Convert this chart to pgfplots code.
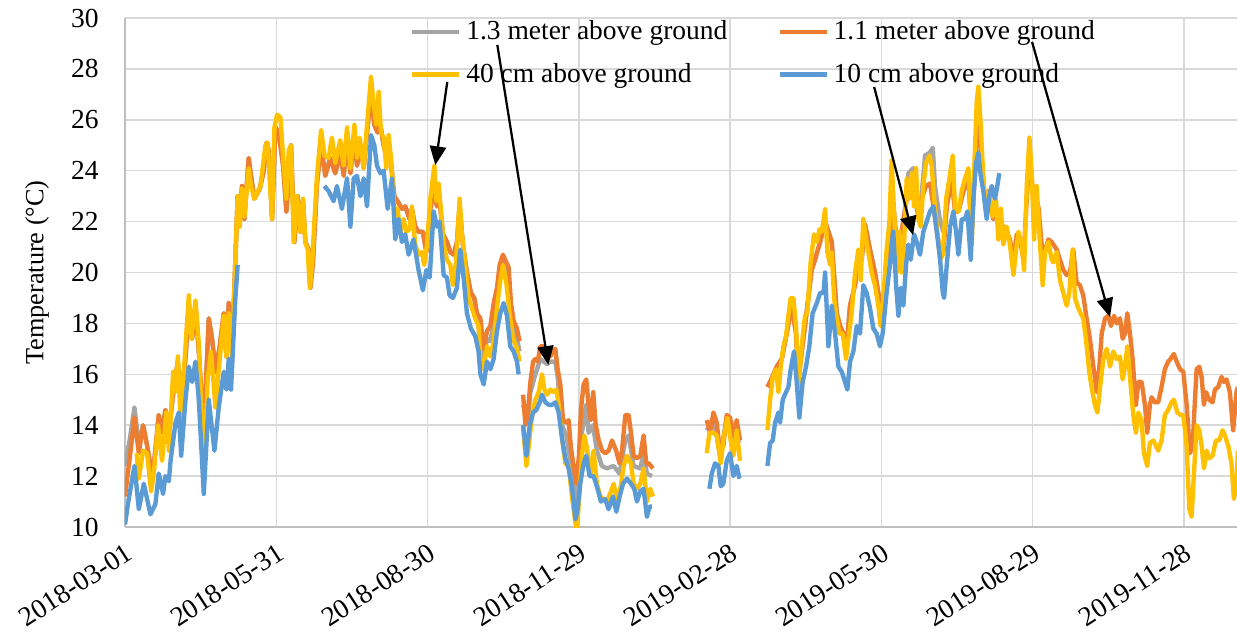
\documentclass[border=0pt]{standalone}
\usepackage{fontspec}
\setmainfont{Liberation Serif}
\usepackage{pgfplots}
\pgfplotsset{compat=1.18}
\usetikzlibrary{arrows.meta}
\definecolor{cgray}{HTML}{A5A5A5}
\definecolor{corange}{HTML}{ED7D31}
\definecolor{cyellow}{HTML}{FFC000}
\definecolor{cblue}{HTML}{5B9BD5}
\definecolor{gridc}{HTML}{D9D9D9}
\definecolor{axisc}{HTML}{BFBFBF}
\begin{document}
\begin{tikzpicture}
\begin{axis}[
  scale only axis, width=444.8pt, height=203.6pt,
  xmin=0, xmax=669, ymin=10, ymax=30,
  axis x line*=bottom, axis y line*=left,
  axis line style={axisc, line width=0.8pt, -},
  xtick={0,91,182,273,364,455,546,637},
  xticklabels={2018-03-01,2018-05-31,2018-08-30,2018-11-29,2019-02-28,2019-05-30,2019-08-29,2019-11-28},
  ytick={10,12,...,30},
  grid=major, major grid style={gridc, line width=0.6pt},
  major tick length=0pt, tick style={draw=none},
  /pgf/number format/assume math mode=true,
  ticklabel style={font=\fontsize{11}{13}\selectfont},
  xticklabel style={rotate=33, anchor=north east, xshift=0pt, yshift=-1.5pt, font=\fontsize{11}{13}\selectfont},
  yticklabel style={xshift=-7pt},
  ylabel={Temperature (°C)},
  ylabel style={at={(axis description cs:-0.079,0.5)}, anchor=center, font=\fontsize{10.5}{12}\selectfont},
  unbounded coords=jump,
  legend columns=2,
  legend style={draw=none, fill=none, at={(rel axis cs:0.5665,0.931)}, anchor=center,
    font=\fontsize{11}{13}\selectfont, /tikz/every even column/.append style={column sep=18pt}, row sep=4pt, inner sep=0pt},
  legend cell align=left,
  legend image code/.code={\draw[#1, line width=1.7pt] (0pt,0pt) -- (18.8pt,0pt);},
  every axis plot/.append style={line width=1.75pt, line join=round},
]
% 1.3 m (gray)
\addplot[cgray] coordinates {
(0,12.4) (3,13.5) (5.7,14.7) (8.3,13.2) (10.9,14.0) (13.3,13.2) (16.3,12.0) (17.3,12.4) (20.3,14.4) (22.3,13.7) (24.3,14.6) (26.4,13.7) (29.4,15.5) (31.8,16.5) (33.4,15.0) (36.4,16.6) (38.4,18.7) (40.4,17.4) (42.4,18.7) (44.4,16.9) (47.4,13.7) (50.4,18.2) (52.4,17.4) (54.4,16.1) (57,17.1) (59.4,18.4) (61,16.7) (62.4,18.8) (64.4,16.9) (66.4,20.5) (67.8,23.0) (69,22.0) (70.4,23.4) (71.8,22.1) (74.4,24.5) (75.8,23.8) (77.8,22.9) (81.1,23.3) (83.5,24.0) (85.1,25.1) (86.5,24.8) (88.5,22.1) (90.5,25.7) (92.5,25.5) (95.1,24.2) (97.1,22.4) (99.9,25.0) (101.9,21.2) (103.9,23.0) (105.5,21.6) (107.1,22.8) (108.5,21.2) (110.5,20.9) (111.5,19.4) (113,20.3) (115.5,23.5) (118,25.0) (120.5,23.8) (123.5,24.5) (126.5,23.9) (129.5,24.7) (131.6,23.8) (133.6,25.3) (135.6,23.9) (138,25.4) (139.6,24.2) (141.6,25.0) (143.6,24.1) (145.6,25.5) (148,27.0) (150,25.8) (152,25.5) (153.6,25.8) (155.6,25.0) (157.6,24.5) (159.6,24.6) (162,23.0) (164,22.8) (166.6,22.5) (168.6,22.6) (171.2,22.1) (172.6,22.5) (174.6,21.8) (176.6,21.6) (179.2,21.6) (181.3,20.8) (183.7,22.5) (185.7,23.2) (187.7,22.6) (189.3,22.8) (191.3,21.5) (193.7,21.2) (195.7,20.8) (197.7,20.7) (199.7,21.2) (201.3,22.6) (203.3,21.1) (205.7,20.0) (208.1,19.2) (210.1,19.0) (211.7,18.4) (213.8,17.3) (215.8,16.6) (217.8,17.4) (219.8,17.3) (221.8,18.0) (223.8,19.0) (225.4,19.9) (227.4,20.4) (229.4,20.0) (231.4,18.8) (233.4,17.8) (235.8,17.4) (237.4,16.9) (238.5,nan)
(239.5,14.8) (242.3,14.2) (243.9,15.3) (246.9,16.0) (249.9,16.6) (251.9,16.5) (253.9,16.4) (255.9,16.5) (258.9,16.5) (260.3,15.9) (262.9,14.0) (265.5,13.6) (268.3,12.4) (271.5,11.0) (273.1,11.7) (274.9,13.7) (277.3,14.8) (278.9,13.7) (281.5,14.0) (283.9,13.0) (286.9,12.4) (289.9,12.3) (293.9,12.4) (297.5,12.1) (301,13.4) (303,13.6) (306,12.4) (310,12.3) (312,12.9) (314,12.1) (317,12.0) (330,nan)
(350,13.8) (354,14.3) (358,12.8) (362,14.3) (366,13.5) (370,13.3) (378,nan)
(386.5,15.5) (388.1,15.7) (392.1,16.3) (395.1,16.6) (398.1,17.6) (401.1,18.7) (403.7,17.6) (405.1,15.8) (409.1,17.9) (413.1,20.1) (415.1,20.5) (418.2,21.2) (421.2,22.0) (425.2,21.2) (428.2,18.4) (430.2,17.9) (432.2,17.6) (434.2,17.1) (436.2,18.7) (439.2,19.5) (441.2,20.5) (443.2,20.5) (445.2,21.9) (448.2,20.9) (451.2,20.0) (453.2,19.2) (455.2,18.4) (457.2,19.5) (459.8,21.3) (462.3,22.6) (464.3,21.1) (467.3,21.6) (470.3,23.0) (471.3,23.9) (474.3,24.1) (476.3,22.8) (478.3,22.3) (481.3,24.6) (484,24.7) (486,24.9) (487.3,23.4) (490.4,22.0) (492.4,21.6) (494.4,22.6) (497.4,23.7) (499.4,22.4) (501.4,22.4) (504.4,23.2) (507.4,23.7) (509.4,21.6) (511.4,24.2) (512.8,26.0) (514,25.8) (515.4,24.3) (517.4,22.8) (519.4,23.2) (522.4,22.1) (524.4,22.4) (526.4,22.0)
};
\addlegendentry{1.3 meter above ground}
% 1.1 m (orange)
\addplot[corange] coordinates {
(0,11.2) (3,12.8) (5.7,14.3) (8.3,12.9) (10.9,14.0) (13.3,13.2) (16.3,12.0) (17.3,12.4) (20.3,14.4) (22.3,13.7) (24.3,14.6) (26.4,13.7) (29.4,15.5) (31.8,16.5) (33.4,15.0) (36.4,16.6) (38.4,18.7) (40.4,17.4) (42.4,18.7) (44.4,16.9) (47.4,13.7) (50.4,18.2) (52.4,17.4) (54.4,16.1) (57,17.1) (59.4,18.4) (61,16.7) (62.4,18.8) (64.4,16.9) (66.4,20.5) (67.8,23.0) (69,22.0) (70.4,23.4) (71.8,22.1) (74.4,24.5) (75.8,23.8) (77.8,22.9) (81.1,23.3) (83.5,24.0) (85.1,25.1) (86.5,24.8) (88.5,22.1) (90.5,25.7) (92.5,25.5) (95.1,24.2) (97.1,22.4) (99.9,25.0) (101.9,21.2) (103.9,23.0) (105.5,21.6) (107.1,22.8) (108.5,21.2) (110.5,20.9) (111.5,19.4) (113,20.3) (115.5,23.5) (118,25.0) (120.5,23.8) (123.5,24.5) (126.5,23.9) (129.5,24.7) (131.6,23.8) (133.6,25.3) (135.6,23.9) (138,25.4) (139.6,24.2) (141.6,25.0) (143.6,24.1) (145.6,25.5) (148,27.0) (150,25.8) (152,25.5) (153.6,25.8) (155.6,25.0) (157.6,24.5) (159.6,24.6) (162,23.0) (164,22.8) (166.6,22.5) (168.6,22.6) (171.2,22.1) (172.6,22.5) (174.6,21.8) (176.6,21.6) (179.2,21.6) (181.3,20.8) (183.7,22.5) (185.7,23.2) (187.7,22.6) (189.3,22.8) (191.3,21.5) (193.7,21.2) (195.7,20.8) (197.7,20.7) (199.7,21.2) (201.3,22.6) (203.3,21.1) (205.7,20.0) (208.1,19.2) (210.1,19.0) (211.7,18.4) (213.8,18.2) (215.8,17.0) (217.8,17.7) (219.8,17.9) (221.8,18.8) (223.8,19.4) (225.4,20.3) (227.4,20.7) (229.4,20.4) (230.8,20.2) (232.2,18.8) (233.8,18.1) (235.8,17.8) (237.4,17.3) (238.5,nan)
(239.5,15.2) (240.9,14.0) (242.3,14.4) (243.9,15.7) (245.5,16.5) (246.9,16.6) (248.3,16.5) (249.9,17.1) (251.9,17.1) (253.9,16.7) (255.9,16.7) (257.5,16.9) (258.9,17.0) (260.3,16.2) (261.9,15.6) (263.5,14.2) (265.5,14.1) (266.9,14.2) (268.3,13.1) (269.9,12.4) (271.5,11.7) (273.1,12.8) (274.3,14.6) (275.9,15.6) (277.5,15.8) (278.9,14.8) (280.3,14.2) (281.7,15.3) (283.2,14.0) (285,13.4) (287,13.0) (289,12.9) (291,13.0) (293,13.4) (295.5,13.0) (297.5,12.5) (299,13.0) (301,14.4) (303,14.4) (304.4,13.7) (306,12.8) (308,12.7) (310,12.8) (312,13.6) (313.6,12.5) (315,12.5) (316.4,12.4) (317.6,12.3) (330,nan)
(350,14.2) (352,13.7) (354,14.5) (356,14.1) (358,12.9) (360,13.2) (362,14.4) (364,14.3) (366,13.6) (368,14.2) (370,13.4) (378,nan)
(386.5,15.5) (388.1,15.7) (392.1,16.3) (395.1,16.6) (398.1,17.6) (401.1,18.7) (403.7,17.6) (405.1,15.8) (409.1,17.9) (413.1,20.1) (415.1,20.5) (418.2,21.2) (421.2,22.0) (425.2,21.2) (428.2,18.4) (430.2,17.9) (432.2,17.6) (434.2,17.1) (436.2,18.7) (439.2,19.5) (441.2,20.5) (443.2,20.5) (445.2,21.9) (448.2,20.9) (451.2,20.0) (453.2,19.2) (455.2,18.4) (457.2,19.5) (459.8,21.3) (462.3,22.6) (464.3,21.1) (467.3,21.6) (470.3,22.9) (474.3,23.2) (477.3,22.2) (479.3,22.9) (481.9,23.4) (484.3,23.5) (486.4,22.6) (488.4,21.6) (490.4,20.8) (492.4,20.8) (494.4,22.6) (497.4,23.7) (499.4,22.4) (501.4,22.4) (504.4,23.2) (507.4,23.7) (509.4,21.6) (511.4,24.2) (512.8,26.0) (514,25.8) (515.4,24.3) (517.4,22.8) (519.4,23.2) (522.4,22.1) (524.4,22.4) (526.4,22.0) (528.4,21.8) (530.4,21.6) (532.4,21.3) (534.4,20.5) (536.5,21.5) (538.5,21.3) (540.5,20.5) (542.5,22.9) (544.1,24.5) (545.5,23.7) (547.5,21.8) (549.5,22.6) (551.5,21.1) (553.5,20.8) (555.5,21.3) (557.5,21.2) (560.5,20.9) (562.5,20.5) (564.5,20.1) (566.5,19.9) (568.5,20.0) (570.5,20.9) (572.5,19.6) (574.5,19.5) (576.5,19.1) (578.5,18.2) (580.5,17.4) (582.6,16.3) (584.6,15.3) (586.2,16.3) (587.6,17.6) (589.6,18.2) (591.6,18.3) (593.2,17.9) (595,18.3) (596.6,18.0) (598.6,18.2) (600.2,17.4) (601.6,17.6) (603,18.4) (604.6,17.6) (606.2,16.6) (608.2,14.8) (609.6,15.7) (611.6,15.7) (613.6,14.8) (615,13.7) (616.6,14.8) (617.6,15.1) (619.6,14.9) (621.6,14.9) (623.6,15.5) (625.6,16.2) (627.6,16.5) (629,16.6) (631,16.8) (632.7,16.5) (634.7,16.2) (636.7,16.1) (638.7,14.8) (640.7,12.9) (642.3,13.2) (643.7,15.0) (644.7,16.2) (646.3,16.3) (647.7,15.9) (649.1,14.8) (650.3,15.3) (652.3,15.0) (654.3,14.9) (655.7,15.4) (657.7,15.5) (659.7,15.9) (661.1,15.7) (662.7,15.8) (664.7,15.3) (666.7,13.8) (668.7,15.3) (669.5,15.5)
};
\addlegendentry{1.1 meter above ground}
% 40 cm (yellow)
\addplot[cyellow] coordinates {
(7,12.9) (8.3,11.9) (10.9,13.0) (13.3,12.9) (15.7,11.4) (17.3,12.1) (19.9,14.0) (22.3,12.6) (24.9,14.5) (26.4,13.0) (29,16.1) (30.3,15.3) (31.8,16.7) (33.4,14.3) (35.8,16.5) (38.4,19.1) (40,17.4) (42.4,18.9) (44.4,17.2) (47.4,12.1) (49.8,15.9) (51.8,16.9) (54.4,14.7) (57.4,16.9) (59.4,18.3) (61,16.7) (62.4,18.4) (64.4,16.6) (66.4,20.5) (67.8,23.0) (69,21.8) (70.4,23.3) (71.8,22.2) (74.4,24.1) (75.8,23.4) (77.8,22.9) (81.5,23.4) (84.5,25.0) (85.9,25.1) (87.1,23.6) (88.5,22.1) (89.9,25.7) (91.5,26.2) (93.5,26.1) (95.5,24.2) (97.1,22.9) (98.5,24.8) (99.9,25.0) (101.5,21.2) (103.5,23.0) (105.5,21.6) (107.1,22.9) (108.5,21.2) (109.9,20.9) (111.2,19.4) (112.5,20.3) (115.5,23.8) (118,25.6) (120,24.6) (122.5,24.5) (124.5,25.3) (126.5,24.3) (129.5,25.2) (131.5,24.2) (133.6,25.7) (135.6,24.1) (138,25.8) (139.6,24.5) (141.2,25.3) (143.6,24.1) (145.6,25.8) (148,27.7) (149.6,26.6) (151.2,25.8) (152.6,27.1) (154,25.5) (155.6,25.3) (157.2,24.1) (158.6,25.4) (160,24.5) (161.6,22.9) (162.6,22.2) (164,22.5) (165.6,21.6) (167.6,22.1) (169.2,21.6) (171.2,21.7) (172.6,22.6) (174.6,21.1) (176.6,20.7) (178.6,20.8) (180,20.3) (181.7,21.1) (183.7,22.9) (186.1,24.2) (187.3,22.8) (188.7,23.5) (190.1,22.4) (191.7,21.1) (193.7,20.5) (195.7,20.3) (197.3,19.5) (199.3,20.5) (201.3,22.9) (202.7,21.5) (204.7,20.3) (206.7,19.0) (208.7,18.6) (210.7,18.2) (212.7,17.9) (213.8,16.6) (215.8,16.2) (217.8,17.1) (219.8,16.7) (221.8,17.3) (223.8,18.6) (225.4,19.5) (227.4,20.3) (229.4,19.6) (231.4,18.4) (233.4,17.4) (235.8,17.0) (237.4,16.5) (238.5,nan)
(239.5,13.9) (241.5,12.4) (243.1,13.3) (244.9,14.4) (246.9,15.0) (248.9,15.3) (250.9,16.0) (252.3,15.4) (253.9,15.2) (255.9,15.4) (257.5,15.3) (259.5,15.4) (260.9,14.8) (262.9,13.5) (264.9,12.5) (266.9,12.4) (268.9,11.2) (270.9,10.2) (271.9,9.8) (273.5,11.5) (274.9,12.8) (276.3,13.6) (277.9,13.1) (279.9,12.0) (281.9,13.0) (283.9,11.7) (285.9,11.2) (287.9,11.1) (289.9,11.0) (292.4,11.4) (294,11.7) (296,11.0) (298,11.5) (300,12.4) (302,12.8) (304.4,12.5) (306,11.7) (308,11.5) (310,11.7) (312,12.3) (314,11.0) (316,11.5) (317.6,11.2) (330,nan)
(350,12.9) (351.6,13.7) (354,13.7) (356,13.6) (358.4,12.5) (360.4,13.6) (362.4,14.3) (364.4,13.4) (366,12.8) (368,13.8) (370,12.6) (378,nan)
(386.5,13.8) (388.1,15.0) (389.7,15.9) (391.7,16.2) (393.1,15.3) (394.5,16.3) (396.1,17.1) (397.7,17.5) (399.1,18.3) (400.5,19.0) (402.1,19.0) (403.7,17.9) (405.1,15.5) (407.1,17.1) (409.1,18.3) (410.5,18.4) (412.5,20.4) (414.5,21.5) (416.2,21.2) (417.8,21.7) (419.2,21.6) (421.2,22.5) (422.6,20.8) (424.2,20.3) (425.2,20.8) (426.6,19.0) (428.2,18.2) (429.8,17.6) (431.8,17.6) (433.8,16.6) (435.2,17.4) (437.2,18.4) (439.2,20.0) (441.2,20.9) (442.6,19.7) (444.2,22.1) (445.8,21.3) (447.2,20.8) (449.2,20.0) (451.2,19.5) (453.2,18.7) (454.6,17.9) (456.2,19.0) (458.2,20.9) (459.8,21.9) (461.2,24.4) (462.6,22.5) (464.3,20.0) (465.9,21.6) (467.3,20.0) (468.7,21.1) (470.3,23.7) (472,22.9) (473.3,23.9) (474.7,22.6) (475.9,24.1) (477.3,22.1) (478.7,21.8) (480.3,23.4) (481.9,24.3) (484,24.6) (485.3,24.2) (486.8,22.9) (488.4,21.8) (490.4,20.5) (492,20.7) (494,22.9) (496,23.7) (498,24.6) (499.4,22.5) (501.4,22.4) (503.4,23.2) (505.4,23.7) (507.4,24.1) (509.4,21.1) (510.8,23.9) (512.4,26.7) (513.4,27.3) (514.8,25.8) (516.4,23.7) (518,22.4) (520,23.2) (522,22.2) (524,22.9) (525.4,21.3) (527,22.5) (528.4,21.1) (530.4,21.8) (532.4,21.1) (534.5,19.9) (536.1,20.9) (537.5,21.6) (539.5,21.1) (540.9,20.1) (542.5,23.4) (544.1,25.3) (545.5,23.9) (546.9,21.3) (548.5,23.4) (550.5,21.1) (552.1,19.5) (553.5,20.8) (555.5,21.2) (557.5,20.5) (558.5,20.4) (560.5,20.8) (562.5,19.7) (564.5,19.2) (566.5,18.7) (568.1,19.2) (570.1,20.9) (571.5,19.0) (572.9,18.7) (574.9,18.4) (576.5,18.2) (578.1,17.4) (580.1,16.1) (581.5,15.5) (583.5,14.8) (585,14.5) (586.6,15.5) (588.6,16.6) (590.6,17.0) (592.6,16.3) (594.6,16.9) (596.6,16.6) (598.6,16.7) (600.2,15.8) (601.6,16.3) (603,17.1) (604.6,15.9) (606.6,14.4) (608.2,13.7) (609.6,14.5) (611.6,14.2) (613,12.9) (615,12.4) (616.6,13.3) (618.6,13.4) (620.2,13.2) (621.6,13.0) (623.6,13.4) (625.6,14.4) (627.6,14.6) (629.6,14.9) (631,15.0) (633.1,14.5) (635.1,14.4) (636.7,14.4) (638.7,13.2) (640.3,10.7) (641.7,10.4) (643.1,12.1) (644.7,14.0) (646.3,13.8) (647.7,13.2) (649.1,12.3) (650.7,13.0) (652.3,12.7) (654.3,12.8) (656.3,13.4) (658.3,13.4) (660.3,13.8) (661.7,13.6) (663.7,13.2) (665.7,12.5) (667.1,11.1) (668.7,11.6) (669.5,13.0)
};
\addlegendentry{40 cm above ground}
% 10 cm (blue)
\addplot[cblue] coordinates {
(0,10.1) (2,11.0) (5.7,12.4) (8.3,10.7) (11.3,11.7) (15.3,10.5) (18.3,10.9) (20.3,12.1) (22.9,11.3) (24.3,12.0) (26.4,11.8) (27.4,12.6) (30.4,14.1) (32.4,14.5) (33.8,12.8) (36.4,15.0) (38.4,16.3) (40.4,15.7) (42.4,16.5) (44.4,15.0) (47.4,11.3) (50.4,15.0) (53.8,13.0) (56.4,14.7) (59.4,16.1) (61,15.4) (62.4,16.6) (63.8,15.4) (66.4,19.0) (67.8,20.3) (70,nan)
(119.9,23.4) (122.5,23.2) (125.5,22.8) (127.5,23.4) (130.5,22.5) (133.6,23.7) (135.6,21.8) (137.6,23.7) (139.6,23.8) (141.6,23.0) (143.6,23.7) (145.6,22.6) (148,25.4) (150,25.0) (151.6,24.2) (153.6,23.9) (155.6,24.0) (158,22.5) (160.6,23.7) (162.6,21.3) (164.6,22.1) (166.6,21.2) (168.6,21.5) (170.6,20.7) (173.6,21.3) (176.6,20.1) (179.2,19.3) (181.3,20.1) (183.3,19.8) (185.7,22.4) (187.7,21.8) (189.3,22.0) (191.7,19.9) (193.7,19.8) (195.3,19.1) (197.3,19.0) (199.7,19.4) (201.7,20.9) (203.7,19.8) (205.7,18.4) (208.1,17.8) (210.7,17.5) (212.7,16.9) (213.8,16.0) (215.8,15.6) (217.8,16.5) (219.8,16.2) (221.8,16.6) (223.8,17.7) (225.8,18.4) (227.8,18.8) (229.8,18.3) (231.8,17.1) (233.8,16.9) (235.8,16.5) (236.8,16.0) (238.5,nan)
(239.5,14.0) (241.5,12.8) (243.5,14.0) (245.5,14.5) (247.5,14.6) (249.5,14.9) (250.9,15.2) (252.9,14.9) (254.9,14.8) (256.9,14.8) (258.9,14.9) (260.9,14.5) (262.9,13.5) (264.9,12.7) (266.9,12.3) (268.9,11.6) (271,10.3) (272.3,10.7) (273.9,11.7) (275.9,12.5) (277.5,12.8) (279.5,12.0) (281.9,12.0) (284.3,11.5) (286.3,11.0) (288.9,11.1) (290.9,10.7) (293.6,11.2) (295.6,10.6) (297.6,11.2) (299.6,11.7) (302,11.9) (304.4,11.7) (306.4,11.5) (308,11.0) (310,11.4) (312,11.5) (314,10.4) (315.6,10.8) (317,10.8) (330,nan)
(351.6,11.5) (353,12.1) (355,12.5) (357,12.4) (358.4,11.6) (360,11.7) (362,12.6) (364,12.9) (366,12.0) (368,12.4) (369.7,11.9) (378,nan)
(386.5,12.4) (388.1,13.3) (389.7,13.4) (391.1,14.1) (393.1,14.5) (394.1,14.1) (395.7,15.0) (397.7,15.3) (399.1,15.5) (400.5,16.2) (402.5,16.9) (404.1,15.7) (405.7,14.3) (407.7,15.7) (409.7,16.3) (411.7,17.1) (413.7,18.4) (416.2,18.8) (418.2,19.2) (420.2,19.2) (421.2,20.0) (423.2,17.1) (425.2,18.7) (427.2,17.6) (429.2,16.3) (431.2,16.1) (433.2,15.7) (434.6,15.4) (436.2,16.5) (438.2,16.9) (440.2,17.9) (442.2,17.6) (444.2,19.5) (446.2,19.2) (448.2,18.6) (450.2,17.8) (452.2,17.6) (454.2,17.1) (455.8,17.6) (458.2,19.2) (460.2,20.3) (462.2,21.6) (463.9,19.5) (465.3,18.3) (466.7,19.4) (468.3,18.7) (469.9,20.3) (471.3,21.1) (472.7,20.5) (474.7,21.5) (476.3,21.2) (478.3,20.7) (480.3,21.6) (482.3,22.0) (484.3,22.4) (486.4,22.6) (488.4,21.6) (490.4,20.5) (492,19.2) (492.8,19.0) (494.4,20.3) (496.4,21.8) (498.4,22.4) (500,21.6) (501.4,20.7) (503.4,22.1) (505.4,22.1) (506.8,22.4) (508.8,20.5) (510.4,22.9) (512,24.3) (513.4,24.7) (514.8,23.8) (516.4,23.2) (518.4,22.1) (520,23.0) (521.4,23.4) (523.4,22.9) (524.8,23.4) (526,23.9)
};
\addlegendentry{10 cm above ground}
\coordinate (ll) at (rel axis cs:0,0);
\coordinate (ur) at (rel axis cs:1,1);
\coordinate (a1s) at (axis cs:193.9,27.49); \coordinate (a1e) at (axis cs:186.7,24.22);
\coordinate (a2s) at (axis cs:224.0,28.94); \coordinate (a2e) at (axis cs:254.7,16.37);
\coordinate (a3s) at (axis cs:450.7,27.29); \coordinate (a3e) at (axis cs:474.1,21.47);
\coordinate (a4s) at (axis cs:545.7,29.06); \coordinate (a4e) at (axis cs:592.6,18.25);
\end{axis}
\begin{scope}[line width=0.9pt, -{Triangle[length=7.5pt,width=6.5pt]}]
\draw (a1s) -- (a1e);
\draw (a2s) -- (a2e);
\draw (a3s) -- (a3e);
\draw (a4s) -- (a4e);
\end{scope}
\pgfresetboundingbox
\path ([shift={(-50pt,-43.6pt)}]ll) rectangle ([shift={(0pt,7.2pt)}]ur);
\end{tikzpicture}
\end{document}
